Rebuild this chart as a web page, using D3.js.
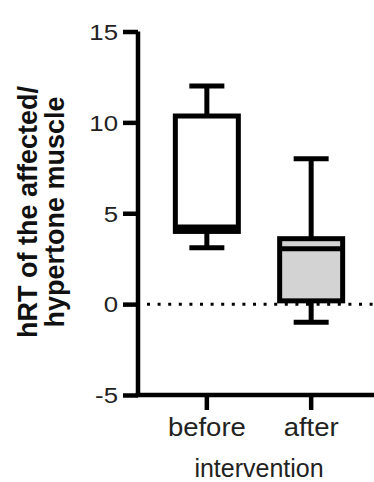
<!DOCTYPE html>
<html>
<head>
<meta charset="utf-8">
<script src="https://cdn.jsdelivr.net/npm/d3@7.9.0/dist/d3.min.js"></script>
<style>
  html, body { margin: 0; padding: 0; background: #fff; }
  svg { display: block; font-family: "Liberation Sans", Arial, sans-serif; }
</style>
</head>
<body>
<svg id="chart" width="374" height="482"></svg>
<script>
// box plot summary per group
const groups = ["before", "after"];
const mins = [3.1, -1];
const q1s = [4.0, 0.18];
const medians = [4.25, 3.05];
const q3s = [10.35, 3.6];
const maxs = [12, 8];
const fills = ["#ffffff", "#d3d3d3"];
const yTicks = [-5, 0, 5, 10, 15];

const data = groups.map((g, i) => ({
    group: g, min: mins[i], q1: q1s[i], median: medians[i],
    q3: q3s[i], max: maxs[i], fill: fills[i]
}));

const svg = d3.select("#chart");

const y = d3.scaleLinear().domain([-5, 15]).range([395, 31.5]);
const x = d3.scaleBand().domain(groups).range([138, 380])
    .paddingInner(0).paddingOuter(0.16);

const boxW = 63;
const capW = 35;
const lw = 5;
const sx = 1.2; // the original glyphs are a bit wider than Liberation Sans

// y axis
const yAxis = svg.append("g")
    .attr("transform", "translate(138,0)")
    .call(d3.axisLeft(y).tickValues(yTicks).tickFormat(d => String(d))
        .tickSize(15).tickPadding(5).tickSizeOuter(0));
yAxis.select(".domain").attr("stroke", "#000").attr("stroke-width", 4.5)
    .attr("d", `M0,${y(15)}V${y(-5)}`);
yAxis.selectAll(".tick line").attr("stroke", "#000").attr("stroke-width", 4.5);
yAxis.selectAll(".tick text")
    .attr("fill", "#222")
    .style("font-size", "21.5px")
    .attr("x", -20 / sx)
    .attr("transform", `scale(${sx},1)`)
    .attr("dy", "0.36em");

// x axis
const xAxis = svg.append("g")
    .attr("transform", `translate(0,${y(-5)})`)
    .call(d3.axisBottom(x).tickSize(15).tickPadding(8).tickSizeOuter(0));
xAxis.select(".domain").attr("stroke", "#000").attr("stroke-width", 4.5)
    .attr("d", `M${x.range()[0] - 2.25},0H${x.range()[1]}`);
xAxis.selectAll(".tick line").attr("stroke", "#000").attr("stroke-width", 4.5);
xAxis.selectAll(".tick text")
    .attr("fill", "#222")
    .style("font-size", "25px")
    .attr("transform", "scale(1.1,1)");

const cx = d => x(d.group) + x.bandwidth() / 2;

const boxes = svg.append("g").selectAll("g")
    .data(data).join("g");

// whiskers
boxes.append("line")
    .attr("x1", cx).attr("x2", cx)
    .attr("y1", d => y(d.max)).attr("y2", d => y(d.q3))
    .attr("stroke", "#000").attr("stroke-width", lw);
boxes.append("line")
    .attr("x1", cx).attr("x2", cx)
    .attr("y1", d => y(d.q1)).attr("y2", d => y(d.min))
    .attr("stroke", "#000").attr("stroke-width", lw);
// caps
boxes.selectAll("line.cap")
    .data(d => [d.max, d.min].map(v => ({ c: cx(d), v })))
    .join("line")
    .attr("class", "cap")
    .attr("x1", d => d.c - capW / 2).attr("x2", d => d.c + capW / 2)
    .attr("y1", d => y(d.v)).attr("y2", d => y(d.v))
    .attr("stroke", "#000").attr("stroke-width", lw);

// box
boxes.append("rect")
    .attr("x", d => cx(d) - boxW / 2)
    .attr("width", boxW)
    .attr("y", d => y(d.q3))
    .attr("height", d => y(d.q1) - y(d.q3))
    .attr("fill", d => d.fill)
    .attr("stroke", "#000").attr("stroke-width", lw);
// median
boxes.append("line")
    .attr("x1", d => cx(d) - boxW / 2).attr("x2", d => cx(d) + boxW / 2)
    .attr("y1", d => y(d.median)).attr("y2", d => y(d.median))
    .attr("stroke", "#000").attr("stroke-width", lw);

// dotted reference line at 0
svg.append("line")
    .attr("x1", 147).attr("x2", 374)
    .attr("y1", y(0)).attr("y2", y(0))
    .attr("stroke", "#000").attr("stroke-width", 3)
    .attr("stroke-dasharray", "3,7.6");

// axis titles
svg.append("text")
    .attr("x", 259).attr("y", 477)
    .attr("text-anchor", "middle")
    .attr("fill", "#222")
    .style("font-size", "25px")
    .text("intervention");

const yTitle = svg.append("text")
    .attr("transform", "rotate(-90)")
    .attr("text-anchor", "middle")
    .attr("fill", "#111")
    .style("font-size", "27px")
    .style("font-weight", "bold");
yTitle.append("tspan").attr("x", -212).attr("y", 37).text("hRT of the affected/");
yTitle.append("tspan").attr("x", -212).attr("y", 63.5).text("hypertone muscle");
</script>
</body>
</html>
